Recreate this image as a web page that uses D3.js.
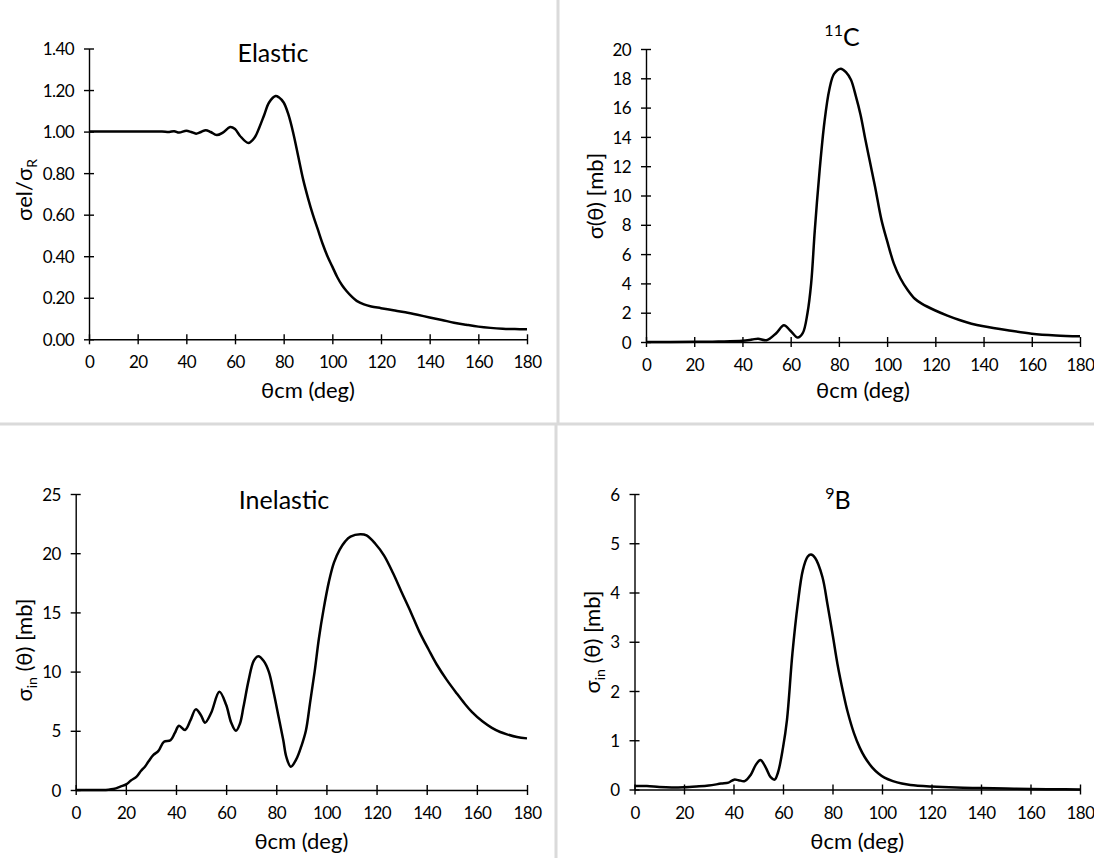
<!DOCTYPE html>
<html>
<head>
<meta charset="utf-8">
<script src="https://cdn.jsdelivr.net/npm/d3@7/dist/d3.min.js"></script>
<style>
body { margin: 0; background: #fff; }
svg text { font-family: Lato, "Open Sans", sans-serif; fill: #000; }
</style>
</head>
<body>
<svg id="board"></svg>
<script>
// theta (deg) ticks shared by all four panels
var thetaTicks = [0, 20, 40, 60, 80, 100, 120, 140, 160, 180];

// Elastic: sigma_el / sigma_R
var elasticAngle = [0,5,10,15,20,25,30,33,35,37,40,42,44,46,48,50,52.5,55,58,60,62,65.5,68,70,72,74,76.7,78,80,82,84,86,88,90,92,94,96,98,100,102,104,106,108,110,113,116,120,125,130,135,140,145,150,155,160,165,170,175,180];
var elasticRatio = [1,1,1,1,1,1,1.0,0.998,1.002,0.995,1.004,0.998,0.99,0.998,1.007,0.998,0.983,0.995,1.022,1.012,0.98,0.945,0.97,1.02,1.08,1.14,1.171,1.165,1.14,1.08,0.99,0.88,0.77,0.68,0.6,0.53,0.46,0.40,0.35,0.30,0.26,0.23,0.205,0.185,0.168,0.158,0.15,0.14,0.13,0.118,0.105,0.093,0.08,0.07,0.061,0.055,0.051,0.049,0.048];
var elasticTicks = [0, 0.2, 0.4, 0.6, 0.8, 1.0, 1.2, 1.4];

// 11C: sigma(theta) [mb]
var c11Angle = [0,10,20,30,40,44,46.5,50,54,57.2,60,62.9,65,67,68.5,70,72,74,76,78,80.8,83,85,87,89,91,93,95,97.7,100,102.8,105.5,108.6,111.5,114.5,120,125,130,135,140,150,160,170,180];
var c11Sigma = [0,0,0.01,0.03,0.08,0.17,0.23,0.12,0.6,1.14,0.75,0.3,0.6,2.0,4.0,7.6,11.7,15.0,17.2,18.3,18.66,18.4,17.9,16.8,15.5,13.8,12.2,10.6,8.3,6.9,5.35,4.35,3.53,2.95,2.6,2.15,1.8,1.5,1.25,1.07,0.8,0.57,0.45,0.39];
var c11Ticks = [0, 2, 4, 6, 8, 10, 12, 14, 16, 18, 20];

// Inelastic: sigma_in(theta) [mb]
var inelAngle = [0,5,10,13,15,18,20.3,22,24.3,26,27.6,29,31,33,35.2,37.8,39.5,41.2,43.6,45.8,47.9,50,51.6,54,57.3,60,62,63.9,65.5,66.9,69,71,72.8,75,77,79,81,82.8,84,85.8,88,90,91.8,93.5,95.3,97,98.9,101,103,105.3,107.5,109.6,113.5,116,119.5,123,126.6,130,133.7,137,140.9,144,148,152,155.1,158,162.2,166,169.3,172,176,180];
var inelSigma = [0,0,0,0.02,0.08,0.3,0.5,0.8,1.13,1.6,1.97,2.4,2.96,3.3,4.08,4.2,4.8,5.43,5.07,5.9,6.81,6.3,5.69,6.5,8.3,7.2,5.7,5.0,5.6,7.0,9.3,10.9,11.3,10.9,10.0,8.2,6.1,4.2,2.8,1.97,2.6,3.7,5.0,7.4,10.0,12.8,15.3,17.6,19.2,20.3,21.0,21.4,21.6,21.5,20.8,19.8,18.3,16.7,15.0,13.4,11.8,10.6,9.3,8.15,7.3,6.6,5.8,5.25,4.9,4.7,4.47,4.36];
var inelTicks = [0, 5, 10, 15, 20, 25];

// 9B: sigma_in(theta) [mb]
var b9Angle = [0,5,10,15,20,25,30,35,38,40.2,42,44.5,47,49,50.9,53,55,56.6,58,60,61.6,63.8,66,68,70,71.3,73,75.9,78,80.2,82,84.4,86,88.7,91,93,96,98.7,101,104.4,108,111.5,120,130,140,150,160,170,180];
var b9Sigma = [0.07,0.07,0.05,0.04,0.045,0.06,0.08,0.12,0.14,0.2,0.19,0.17,0.3,0.5,0.6,0.45,0.25,0.2,0.35,0.85,1.41,2.76,3.78,4.45,4.73,4.77,4.7,4.32,3.75,3.1,2.55,1.95,1.6,1.14,0.85,0.66,0.45,0.32,0.24,0.17,0.12,0.09,0.06,0.04,0.03,0.02,0.01,0.005,0.0];
var b9Ticks = [0, 1, 2, 3, 4, 5, 6];

var bd = d3.select("#board")
           .attr("width", 1094)
           .attr("height", 858);

// light grey frame lines between the four pictures
bd.append("line").attr("x1", 0).attr("x2", 1094).attr("y1", 424).attr("y2", 424)
  .attr("stroke", "#dadada").attr("stroke-width", 3);
bd.append("line").attr("x1", 558).attr("x2", 558).attr("y1", 0).attr("y2", 423)
  .attr("stroke", "#dadada").attr("stroke-width", 3);
bd.append("line").attr("x1", 556).attr("x2", 556).attr("y1", 425).attr("y2", 858)
  .attr("stroke", "#dadada").attr("stroke-width", 3);

function panel(p) {
  var x = d3.scaleLinear().domain([0, 180]).range([p.left, p.right]);
  var y = d3.scaleLinear().domain([0, p.yticks[p.yticks.length - 1]]).range([p.bottom, p.top]);
  var g = bd.append("g");

  var xa = g.append("g")
    .attr("transform", "translate(0," + p.bottom + ")")
    .call(d3.axisBottom(x).tickValues(thetaTicks).tickSize(5).tickSizeOuter(0));
  xa.selectAll(".tick line").attr("y1", -5).attr("y2", 5);
  xa.selectAll(".tick text").attr("y", 29).attr("dy", 0)
    .style("font-size", "17px").style("letter-spacing", "-0.6px");

  var ya = g.append("g")
    .attr("transform", "translate(" + p.left + ",0)")
    .call(d3.axisLeft(y).tickValues(p.yticks).tickFormat(p.fmt).tickSize(5).tickSizeOuter(0));
  ya.selectAll(".tick line").attr("x1", -5).attr("x2", 5);
  ya.selectAll(".tick text").attr("x", -15).attr("dy", "0.36em")
    .style("font-size", "17px").style("letter-spacing", "-0.6px");

  g.selectAll(".domain").attr("stroke", "#000").attr("stroke-width", 1.4);
  g.selectAll(".tick line").attr("stroke", "#000").attr("stroke-width", 1.4);

  var line = d3.line()
    .x(function (d) { return x(d[0]); })
    .y(function (d) { return y(d[1]); })
    .curve(d3.curveCatmullRom.alpha(0.5));
  g.append("path")
    .datum(d3.zip(p.xs, p.ys))
    .attr("fill", "none")
    .attr("stroke", "#000")
    .attr("stroke-width", 2.5)
    .attr("d", line);

  // title
  var t = g.append("text").attr("x", p.tx).attr("y", p.ty)
    .attr("text-anchor", "middle").style("font-size", "25px");
  if (p.sup) {
    t.append("tspan").text(p.sup).style("font-size", "16px").attr("dy", -10);
    t.append("tspan").text(p.title).attr("dy", 10);
  } else {
    t.text(p.title);
  }

  // x title
  g.append("text").attr("x", (p.left + p.right) / 2).attr("y", p.xty)
    .attr("text-anchor", "middle").style("font-size", "22px").text("θcm (deg)");

  // y title
  var yl = g.append("text")
    .attr("transform", "translate(" + p.ylx + "," + p.yly + ") rotate(-90)")
    .attr("text-anchor", "middle").style("font-size", "22px");
  p.ylab.forEach(function (s) {
    var ts = yl.append("tspan").text(s[0]);
    if (s[1] === "sub") ts.style("font-size", "14px").attr("dy", 5);
    if (s[1] === "back") ts.attr("dy", -5);
  });
}

panel({
  xs: elasticAngle, ys: elasticRatio, yticks: elasticTicks, fmt: d3.format(".2f"),
  left: 89, right: 527, top: 48.5, bottom: 339.3,
  title: "Elastic", tx: 273, ty: 62, xty: 398,
  ylx: 32, yly: 190, ylab: [["σel/σ"], ["R", "sub"]]
});
panel({
  xs: c11Angle, ys: c11Sigma, yticks: c11Ticks, fmt: d3.format("d"),
  left: 646, right: 1080, top: 49, bottom: 342,
  title: "C", sup: "11", tx: 842, ty: 46, xty: 398,
  ylx: 603, yly: 196, ylab: [["σ(θ) [mb]"]]
});
panel({
  xs: inelAngle, ys: inelSigma, yticks: inelTicks, fmt: d3.format("d"),
  left: 75.7, right: 527, top: 494, bottom: 790,
  title: "Inelastic", tx: 284, ty: 509, xty: 849,
  ylx: 32, yly: 650, ylab: [["σ"], ["in", "sub"], [" (θ) [mb]", "back"]]
});
panel({
  xs: b9Angle, ys: b9Sigma, yticks: b9Ticks, fmt: d3.format("d"),
  left: 634.5, right: 1080, top: 494, bottom: 789.5,
  title: "B", sup: "9", tx: 838, ty: 509, xty: 849,
  ylx: 600, yly: 642, ylab: [["σ"], ["in", "sub"], [" (θ) [mb]", "back"]]
});
</script>
</body>
</html>
